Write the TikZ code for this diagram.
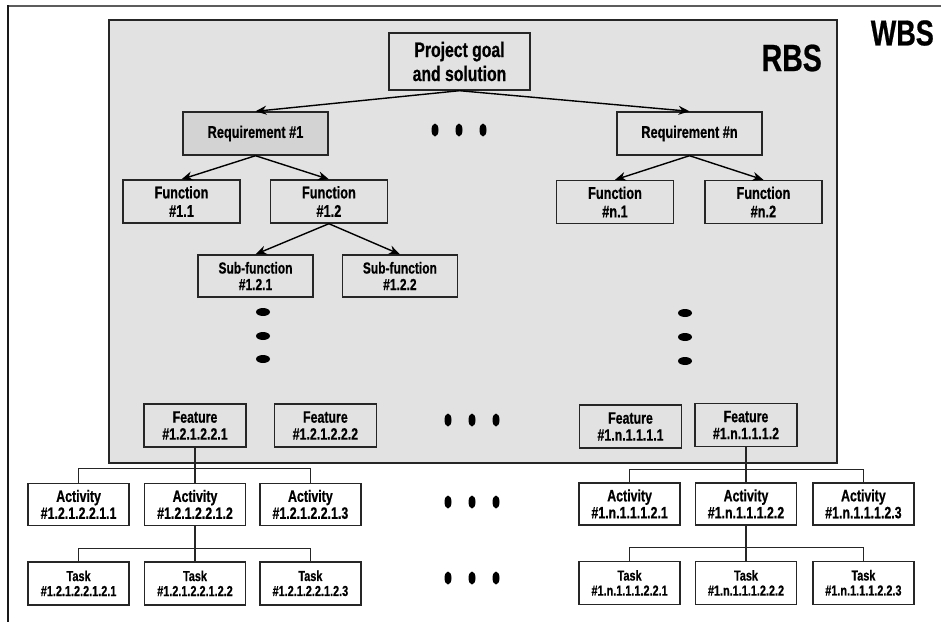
\documentclass[tikz,border=0pt]{standalone}
\usepackage{fontspec}
\setmainfont{Liberation Sans}[FakeStretch=0.75, BoldFeatures={FakeBold=0.6}]
\usetikzlibrary{arrows.meta, positioning, shapes.geometric}
\definecolor{rbsgray}{HTML}{E2E2E2}
\definecolor{reqgray}{HTML}{D3D3D3}
\definecolor{framegray}{HTML}{5C5C5C}

\begin{document}
\begin{tikzpicture}[
    x=1pt, y=-1pt,
    node distance=35pt and 14pt,
    box/.style={rectangle, draw=black!85, line width=1.4pt, align=center, inner sep=0pt},
    rbsbox/.style={box, fill=rbsgray, minimum height=43pt, font=\fontsize{17}{18.5}\selectfont\bfseries},
    funcbox/.style={rbsbox, minimum width=117pt},
    subbox/.style={rbsbox, minimum width=115pt, minimum height=42pt, font=\fontsize{16}{16.5}\selectfont\bfseries},
    featbox/.style={rbsbox, minimum width=102pt, font=\fontsize{16.5}{17}\selectfont\bfseries},
    actbox/.style={box, fill=white, minimum width=101pt, minimum height=42pt, font=\fontsize{16.5}{17}\selectfont\bfseries},
    taskbox/.style={box, fill=white, minimum width=101pt, minimum height=43pt, font=\fontsize{14.5}{15}\selectfont\bfseries},
    arrow/.style={-{Stealth[length=11pt, width=9pt]}, line width=1.4pt},
    tree/.style={line width=1.2pt, draw=black!85},
    title/.style={font=\fontsize{36}{38}\selectfont\bfseries, inner sep=0pt, anchor=east},
]
\useasboundingbox (0,0) rectangle (941,622);

% WBS frame
\draw[framegray, line width=2.5pt] (7,6) -- (941,6);
\draw[black!90, line width=1.6pt] (8,5) -- (8,622);
\node[title] (wbs) at (934,33) {WBS};

% RBS area
\draw[black!85, line width=1.3pt, fill=rbsgray] (109,20) rectangle (837,463);
\node[title, font=\fontsize{38}{40}\selectfont\bfseries] (rbs) at (822,58) {RBS};

% Goal and requirements
\node[rbsbox, minimum width=141pt, minimum height=57pt, font=\fontsize{21}{24}\selectfont\bfseries] (goal) at (459.5,61.5) {Project goal\\and solution};
\node[rbsbox, fill=reqgray, minimum width=145pt] (req1) at (255.5,133.5) {Requirement \#1};
\node[rbsbox, minimum width=145pt] (reqn) at (689.5,133.5) {Requirement \#n};

% Functions
\node[funcbox] (fun11) at (181.5,201.5) {Function\\\#1.1};
\node[funcbox, right=29pt of fun11] (fun12) {Function\\\#1.2};
\node[funcbox] (funn1) at (615,202) {Function\\\#n.1};
\node[funcbox, right=30pt of funn1] (funn2) {Function\\\#n.2};

% Sub-functions
\node[subbox] (sub1) at (255.5,276) {Sub-function\\\#1.2.1};
\node[subbox, right=28pt of sub1] (sub2) {Sub-function\\\#1.2.2};

% Features
\node[featbox] (feat1) at (195,425.5) {Feature\\\#1.2.1.2.2.1};
\node[featbox, right=27pt of feat1] (feat2) {Feature\\\#1.2.1.2.2.2};
\node[featbox] (featn1) at (630.5,426.5) {Feature\\\#1.n.1.1.1.1};
\node[featbox] (featn2) at (746,425) {Feature\\\#1.n.1.1.1.2};

% Activities
\node[actbox, below=of feat1] (act2) {Activity\\\#1.2.1.2.2.1.2};
\node[actbox, left=of act2] (act1) {Activity\\\#1.2.1.2.2.1.1};
\node[actbox, right=13pt of act2] (act3) {Activity\\\#1.2.1.2.2.1.3};
\node[actbox, below=of featn2] (actn2) {Activity\\\#1.n.1.1.1.2.2};
\node[actbox, left=of actn2] (actn1) {Activity\\\#1.n.1.1.1.2.1};
\node[actbox, right=15pt of actn2] (actn3) {Activity\\\#1.n.1.1.1.2.3};

% Tasks
\node[taskbox, below=of act2] (task2) {Task\\\#1.2.1.2.2.1.2.2};
\node[taskbox, left=of task2] (task1) {Task\\\#1.2.1.2.2.1.2.1};
\node[taskbox, right=13pt of task2] (task3) {Task\\\#1.2.1.2.2.1.2.3};
\node[taskbox, below=of actn2] (taskn2) {Task\\\#1.n.1.1.1.2.2.2};
\node[taskbox, left=of taskn2] (taskn1) {Task\\\#1.n.1.1.1.2.2.1};
\node[taskbox, right=15pt of taskn2] (taskn3) {Task\\\#1.n.1.1.1.2.2.3};

% Arrows
\draw[arrow] (goal.south) -- (req1.north);
\draw[arrow] (goal.south) -- (reqn.north);
\draw[arrow] (req1.south) -- (fun11.north);
\draw[arrow] (req1.south) -- (fun12.north);
\draw[arrow] (reqn.south) -- (funn1.north);
\draw[arrow] (reqn.south) -- (funn2.north);
\draw[arrow] (fun12.south) -- (sub1.north);
\draw[arrow] (fun12.south) -- (sub2.north);

% Tree lines
\draw[tree] (feat1.south) -- (act2.north);
\draw[tree] (act1.north) -- ++(0,-14) -| (act3.north);
\draw[tree] (act2.south) -- (task2.north);
\draw[tree] (task1.north) -- ++(0,-13) -| (task3.north);
\draw[tree] (featn2.south) -- (actn2.north);
\draw[tree] (actn1.north) -- ++(0,-13) -| (actn3.north);
\draw[tree] (actn2.south) -- (taskn2.north);
\draw[tree] (taskn1.north) -- ++(0,-13) -| (taskn3.north);

% Dots
\fill (435,130) ellipse (3.5pt and 6.5pt) (459,130) ellipse (3.5pt and 6.5pt) (483,130) ellipse (3.5pt and 6.5pt);
\fill (263,312) ellipse (7pt and 4pt) (263,336) ellipse (7pt and 4pt) (263,359) ellipse (7pt and 4pt);
\fill (685,313) ellipse (7pt and 4pt) (685,337) ellipse (7pt and 4pt) (685,361) ellipse (7pt and 4pt);
\fill (448,420) ellipse (3.5pt and 6.5pt) (472,420) ellipse (3.5pt and 6.5pt) (496,420) ellipse (3.5pt and 6.5pt);
\fill (448,502) ellipse (3.5pt and 6.5pt) (472,502) ellipse (3.5pt and 6.5pt) (496,502) ellipse (3.5pt and 6.5pt);
\fill (448,578) ellipse (3.5pt and 6.5pt) (472,578) ellipse (3.5pt and 6.5pt) (496,578) ellipse (3.5pt and 6.5pt);

\end{tikzpicture}
\end{document}
